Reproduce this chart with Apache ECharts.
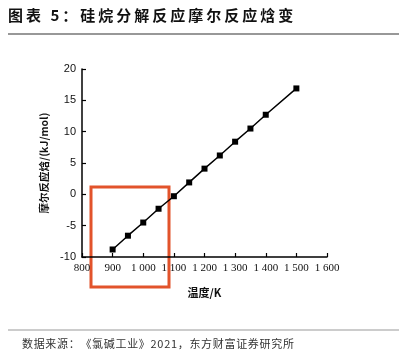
<!DOCTYPE html>
<html><head><meta charset="utf-8">
<script src="https://cdn.jsdelivr.net/npm/echarts@6/dist/echarts.min.js"></script>
<style>html,body{margin:0;padding:0;background:#fff}#c{width:399px;height:361px}</style>
</head><body><div id="c"></div>
<script>
const temperatures = [900, 950, 1000, 1050, 1100, 1150, 1200, 1250, 1300, 1350, 1400, 1500];
const enthalpy = [-8.8, -6.6, -4.5, -2.3, -0.3, 1.9, 4.1, 6.2, 8.4, 10.5, 12.7, 16.9];
const xTicks = [800, 900, 1000, 1100, 1200, 1300, 1400, 1500, 1600];
const yTicks = [-10, -5, 0, 5, 10, 15, 20];
const titleText = '图表 5：硅烷分解反应摩尔反应焓变';
const sourceText = '数据来源：《氯碱工业》2021，东方财富证券研究所';

const spaced = (s, sp) => Array.from(s).join(sp);
const chart = echarts.init(document.getElementById('c'));
const fmtX = v => v >= 1000 ? String(v).slice(0, 1) + ' ' + String(v).slice(1) : String(v);
chart.setOption({
  animation: false,
  grid: {left: 82, right: 72, top: 69, bottom: 104},
  xAxis: {
    type: 'value', min: xTicks[0], max: xTicks[xTicks.length - 1], interval: 100,
    name: '温度/K', nameLocation: 'middle', nameGap: 30,
    nameTextStyle: {color: '#111', fontSize: 11, fontWeight: 'bold', fontFamily: 'Noto Sans CJK SC'},
    axisLine: {onZero: false, lineStyle: {color: '#000', width: 1.5}},
    axisTick: {inside: true, length: 4, lineStyle: {color: '#000', width: 1.2}},
    axisLabel: {color: '#111', fontSize: 11, fontFamily: 'Liberation Serif', margin: 6, formatter: fmtX},
    splitLine: {show: false}
  },
  yAxis: {
    type: 'value', min: yTicks[0], max: yTicks[yTicks.length - 1], interval: 5,
    name: '摩尔反应焓/(kJ/mol)', nameLocation: 'middle', nameGap: 28, nameRotate: 90,
    nameTextStyle: {color: '#111', fontSize: 10.5, fontWeight: 'bold', fontFamily: 'Noto Sans CJK SC'},
    axisLine: {show: true, onZero: false, lineStyle: {color: '#000', width: 1.5}},
    axisTick: {show: true, inside: true, length: 4, lineStyle: {color: '#000', width: 1.2}},
    axisLabel: {color: '#111', fontSize: 11, fontFamily: 'Liberation Sans', margin: 6},
    splitLine: {show: false}
  },
  series: [{
    type: 'line',
    data: temperatures.map((t, i) => [t, enthalpy[i]]),
    symbol: 'rect', symbolSize: 6,
    lineStyle: {color: '#000', width: 1.5},
    itemStyle: {color: '#000'}
  }],
  graphic: [
    {type: 'text', left: 8, top: 8, style: {text: spaced(titleText, '\u2009'), font: 'bold 15px "Noto Sans CJK SC"', fill: '#111'}},
    {type: 'line', shape: {x1: 8, y1: 34, x2: 399, y2: 34}, style: {stroke: '#333', lineWidth: 1.2}},
    {type: 'line', shape: {x1: 8, y1: 330, x2: 399, y2: 330}, style: {stroke: '#999', lineWidth: 1}},
    {type: 'text', left: 22, top: 338, style: {text: spaced(sourceText, '\u200A'), font: '11px "Noto Sans CJK SC"', fill: '#333'}},
    {type: 'rect', shape: {x: 91, y: 187, width: 78, height: 100}, style: {fill: 'none', stroke: '#E2532B', lineWidth: 3}}
  ]
});
</script></body></html>
